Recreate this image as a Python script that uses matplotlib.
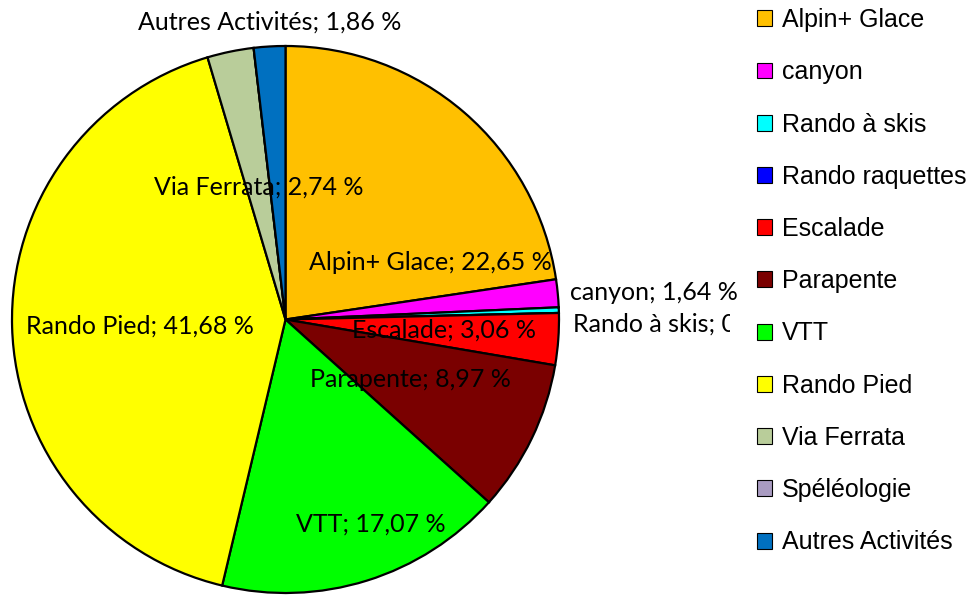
import matplotlib
matplotlib.use("Agg")
import matplotlib.pyplot as plt
from matplotlib.patches import Patch
from matplotlib.transforms import Bbox

categories = ["Alpin+ Glace", "canyon", "Rando à skis", "Rando raquettes", "Escalade",
              "Parapente", "VTT", "Rando Pied", "Via Ferrata", "Spéléologie", "Autres Activités"]
values = [22.65, 1.64, 0.33, 0.0, 3.06, 8.97, 17.07, 41.68, 2.74, 0.0, 1.86]
colors = ["#FFC000", "#FF00FF", "#00FFFF", "#0000FF", "#FF0000",
          "#7A0000", "#00FF00", "#FFFF00", "#B9CD9A", "#A99BC1", "#0070C0"]

# label layout (axes data units, pie radius = 1)
label_layout = {
    "Alpin+ Glace": (0.528, 0.210, "center"),
    "canyon": (1.042, 0.097, "left"),
    "Rando à skis": (1.050, -0.016, "left"),
    "Escalade": (0.580, -0.038, "center"),
    "Parapente": (0.455, -0.221, "center"),
    "VTT": (0.313, -0.748, "center"),
    "Rando Pied": (-0.532, -0.024, "center"),
    "Via Ferrata": (-0.097, 0.484, "center"),
    "Autres Activités": (-0.057, 1.088, "center"),
}

W, H = 979, 595
fig = plt.figure(figsize=(W / 100, H / 100), dpi=100)
ax = fig.add_axes([12 / W, 2 / H, 547 / W, 547 / H])
ax.pie(values, colors=colors, startangle=90, counterclock=False, radius=1,
       wedgeprops=dict(edgecolor="black", linewidth=1.6))
ax.set_xlim(-1, 1)
ax.set_ylim(-1, 1)
ax.set_aspect("equal")
ax.axis("off")

clip = Bbox.from_extents(0, 0, 730, H)
for cat, v in zip(categories, values):
    if cat not in label_layout:
        continue
    x, y, ha = label_layout[cat]
    txt = f"{cat}; {v:.2f} %".replace(".", ",")
    t = ax.text(x, y, txt, ha=ha, va="center", fontsize=18, family="Lato",
                color="black", clip_on=False)
    if cat == "Rando à skis":
        t.set_clip_box(clip)
        t.set_clip_on(True)

handles = [Patch(facecolor=c, edgecolor="black", linewidth=0.8) for c in colors]
leg = fig.legend(handles, categories, loc="upper left", bbox_to_anchor=(752 / W, 1 - 3 / H),
                 frameon=False, handlelength=0.6, handleheight=0.6,
                 handletextpad=0.4, labelspacing=1.13, borderaxespad=0, borderpad=0.2,
                 prop={"family": "Liberation Sans", "size": 18})

fig.savefig("out.png", dpi=100)
